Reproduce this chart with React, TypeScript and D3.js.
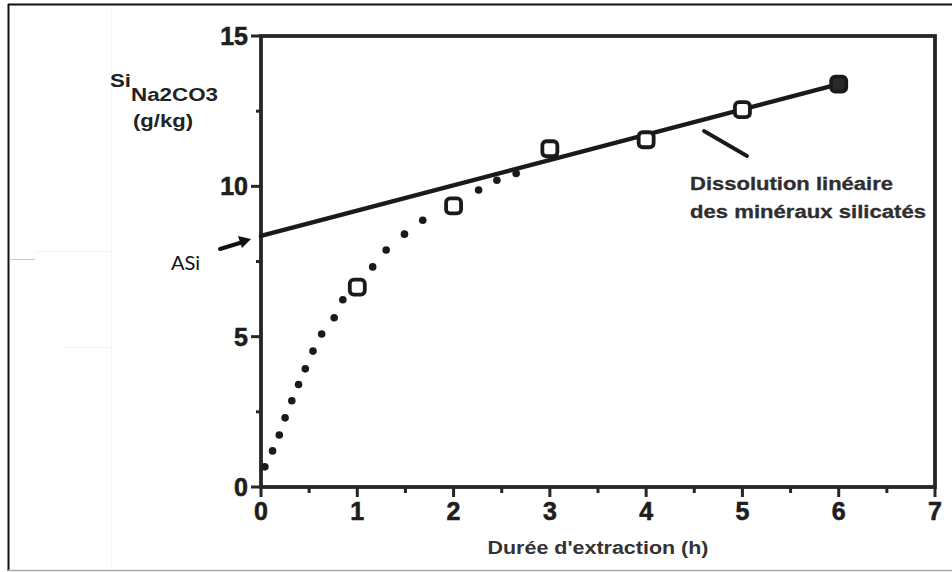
import React from 'react';
import * as d3 from 'd3';

// Measured data (hours, Si Na2CO3 g/kg)
const hours = [1, 2, 3, 4, 5, 6];
const siValues = [6.65, 9.35, 11.25, 11.55, 12.55, 13.4];
const filledFlags = [false, false, false, false, false, true];

// Linear dissolution line endpoints
const linearX = [0, 6];
const linearY = [8.35, 13.4];

// Dots of the dotted curve
const dotX = [0.04, 0.12, 0.19, 0.25, 0.32, 0.39, 0.46, 0.54, 0.63, 0.76, 0.85, 1.16, 1.3, 1.49, 1.68, 2.26, 2.45, 2.65];
const dotY = [0.67, 1.2, 1.73, 2.3, 2.87, 3.41, 3.93, 4.52, 5.09, 5.63, 6.23, 7.32, 7.88, 8.41, 8.87, 9.88, 10.2, 10.43];

const xTicks = [0, 1, 2, 3, 4, 5, 6, 7];
const xMinorTicks = [0.5, 1.5, 2.5, 3.5, 4.5, 5.5, 6.5];
const yTicks = [0, 5, 10, 15];
const yMinorTicks = [2.5, 7.5, 12.5];

const W = 952;
const H = 572;
const FONT = "'Liberation Sans', Arial, Helvetica, sans-serif";
const AX = '#262626';

export default function App() {
  const x = d3.scaleLinear().domain([0, 7]).range([261, 935]);
  const y = d3.scaleLinear().domain([0, 15]).range([487, 36]);

  const linePath = d3.line<number>()
    .x((d) => x(linearX[d]))
    .y((d) => y(linearY[d]))([0, 1]) || '';

  return (
    <svg
      width={W}
      height={H}
      viewBox={`0 0 ${W} ${H}`}
      style={{ position: 'absolute', left: 0, top: 0, background: '#fff' }}
    >
      <rect x={0} y={0} width={W} height={H} fill="#fff" />
      {/* outer frame */}
      <line x1={8} x2={W} y1={4.5} y2={4.5} stroke="#111" strokeWidth={2} />
      <line x1={8.5} x2={8.5} y1={4} y2={571} stroke="#111" strokeWidth={2} />
      <line x1={8} x2={W} y1={570.5} y2={570.5} stroke="#aaa" strokeWidth={1.5} />
      {/* faint scan artefacts */}
      <line x1={111.5} x2={111.5} y1={6} y2={568} stroke="#f6f6f6" strokeWidth={1} />
      <line x1={10} x2={35} y1={259.5} y2={259.5} stroke="#c8c8c8" strokeWidth={1} />
      <line x1={35} x2={111} y1={251.5} y2={251.5} stroke="#f4f4f4" strokeWidth={1} />
      <line x1={62} x2={111} y1={347.5} y2={347.5} stroke="#f4f4f4" strokeWidth={1} />

      {/* plot box */}
      <rect x={x(0)} y={y(15)} width={x(7) - x(0)} height={y(0) - y(15)} fill="none" stroke={AX} strokeWidth={3.8} />

      {/* y ticks */}
      {yTicks.map((t) => (
        <g key={'yt' + t}>
          <line x1={x(0) - 10} x2={x(0)} y1={y(t)} y2={y(t)} stroke={AX} strokeWidth={3} />
          <text
            x={x(0) - 13}
            y={y(t) + 9}
            textAnchor="end"
            fontFamily={FONT}
            fontWeight="bold"
            fontSize={25}
            fill="#1e1e1e"
            stroke="#1e1e1e"
            strokeWidth={0.6}
          >
            {t}
          </text>
        </g>
      ))}
      {yMinorTicks.map((t) => (
        <line key={'ym' + t} x1={x(0) - 5} x2={x(0)} y1={y(t)} y2={y(t)} stroke={AX} strokeWidth={3} />
      ))}

      {/* x ticks */}
      {xTicks.map((t) => (
        <g key={'xt' + t}>
          <line x1={x(t)} x2={x(t)} y1={y(0)} y2={y(0) + 10} stroke={AX} strokeWidth={3} />
          <text
            x={x(t)}
            y={y(0) + 33}
            textAnchor="middle"
            fontFamily={FONT}
            fontWeight="bold"
            fontSize={25}
            fill="#1e1e1e"
            stroke="#1e1e1e"
            strokeWidth={0.6}
          >
            {t}
          </text>
        </g>
      ))}
      {xMinorTicks.map((t) => (
        <line key={'xm' + t} x1={x(t)} x2={x(t)} y1={y(0)} y2={y(0) + 6} stroke={AX} strokeWidth={3} />
      ))}

      {/* axis titles */}
      <text x={110} y={87} fontFamily={FONT} fontWeight="bold" fontSize={19} fill="#222" textLength={21} lengthAdjust="spacingAndGlyphs">Si</text>
      <text x={131} y={101} fontFamily={FONT} fontWeight="bold" fontSize={19} fill="#222" textLength={87} lengthAdjust="spacingAndGlyphs">Na2CO3</text>
      <text x={133} y={127} fontFamily={FONT} fontWeight="bold" fontSize={19} fill="#222" textLength={60} lengthAdjust="spacingAndGlyphs">(g/kg)</text>
      <text x={598} y={554} textAnchor="middle" fontFamily={FONT} fontWeight="bold" fontSize={18} fill="#333" textLength={221} lengthAdjust="spacingAndGlyphs">Durée d'extraction (h)</text>

      {/* dotted curve */}
      {dotX.map((dx, i) => (
        <circle key={'d' + i} cx={x(dx)} cy={y(dotY[i])} r={3.8} fill="#1a1a1a" />
      ))}

      {/* linear line */}
      <path d={linePath} fill="none" stroke="#1a1a1a" strokeWidth={4.5} strokeLinecap="round" />

      {/* markers */}
      {hours.map((h, i) => (
        <rect
          key={'m' + i}
          x={x(h) - 7.5}
          y={y(siValues[i]) - 7.5}
          width={15}
          height={15}
          rx={4}
          fill={filledFlags[i] ? '#2a2a2a' : '#fff'}
          stroke="#1a1a1a"
          strokeWidth={3.8}
        />
      ))}

      {/* annotation */}
      <line x1={704} y1={131} x2={747} y2={156} stroke="#1a1a1a" strokeWidth={3.8} strokeLinecap="round" />
      <text x={690} y={190} fontFamily={FONT} fontWeight="bold" fontSize={18} fill="#2e2e2e" stroke="#2e2e2e" strokeWidth={0.3} textLength={203} lengthAdjust="spacingAndGlyphs">Dissolution linéaire</text>
      <text x={690} y={218} fontFamily={FONT} fontWeight="bold" fontSize={18} fill="#2e2e2e" stroke="#2e2e2e" strokeWidth={0.3} textLength={236} lengthAdjust="spacingAndGlyphs">des minéraux silicatés</text>

      {/* ASi arrow */}
      <line x1={220} y1={249} x2={243} y2={242} stroke="#111" strokeWidth={4} strokeLinecap="round" />
      <path d="M 251 239 L 238 236 L 242 248 Z" fill="#111" />
      <text x={171} y={270} fontFamily="Lato, 'Open Sans', sans-serif" fontSize={20} fill="#111">ASi</text>
    </svg>
  );
}
